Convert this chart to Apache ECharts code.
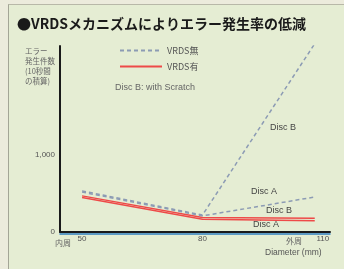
<!DOCTYPE html>
<html>
<head>
<meta charset="utf-8">
<script src="https://cdn.jsdelivr.net/npm/echarts@6/dist/echarts.min.js"></script>
<style>
  html, body { margin: 0; padding: 0; background: #ecebdc; }
  #frame { position: absolute; left: 8px; top: 4px; width: 336px; height: 265px;
           background: #e5edd3; border-left: 1px solid #a4a596; border-top: 1px solid #b8b8a8; }
  #chart { position: absolute; left: 0; top: 0; width: 344px; height: 269px; }
</style>
</head>
<body>
<div id="frame"></div>
<div id="chart"></div>
<script>
// 直径 (mm)
const diameters = [50, 80, 108];
// エラー発生件数 (10秒間の積算)
const discBWithout = [535, 220, 2450];
const discAWithout = [520, 210, 455];
const discBWith = [470, 190, 180];
const discAWith = [450, 165, 145];
const yTicks = { 0: "0", 1000: "1,000" };

const jp = '"Noto Sans CJK JP", "Noto Sans", sans-serif';

function pairs(vals) {
  return diameters.map((d, i) => [d, vals[i]]);
}

const chart = echarts.init(document.getElementById("chart"));

const dashed = { color: "#8c9bb4", width: 1.5, type: [4, 3] };
const red = { color: "#ee4a48", width: 1.5 };

chart.setOption({
  animation: false,
  title: {
    text: "●VRDSメカニズムによりエラー発生率の低減",
    left: 12,
    top: 12,
    textStyle: { fontFamily: jp, fontSize: 14, fontWeight: "bold", color: "#1a1a1a" }
  },
  legend: {
    orient: "vertical",
    left: 114,
    top: 41,
    itemWidth: 42,
    itemHeight: 8,
    itemGap: 7,
    itemStyle: { opacity: 0 },
    textStyle: { fontFamily: jp, fontSize: 9, color: "#555" },
    data: ["VRDS無", "VRDS有"]
  },
  grid: { left: 60, right: 14, top: 46, bottom: 37 },
  xAxis: [
    {
      type: "value",
      min: 44.5,
      max: 111.8,
      interval: 30,
      axisLine: { lineStyle: { color: "#1a1a1a", width: 2 } },
      axisTick: { show: false },
      splitLine: { show: false },
      axisLabel: {
        fontSize: 8, color: "#555", margin: 3,
        customValues: [50, 80, 110]
      }
    },
    {
      type: "value",
      position: "bottom",
      offset: 2,
      min: 44.5,
      max: 111.8,
      axisLine: { lineStyle: { color: "#2f7fc0", width: 1.5 } },
      axisTick: { show: false },
      axisLabel: { show: false },
      splitLine: { show: false }
    }
  ],
  yAxis: {
    type: "value",
    min: 0,
    max: 2420,
    interval: 1000,
    axisLine: { show: true, lineStyle: { color: "#1a1a1a", width: 2 } },
    axisTick: { show: false },
    splitLine: { show: false },
    axisLabel: {
      fontSize: 8, color: "#555", margin: 5,
      formatter: v => yTicks[v] || ""
    }
  },
  series: [
    { name: "VRDS無", type: "line", data: pairs(discBWithout), symbol: "none", lineStyle: dashed, itemStyle: { color: dashed.color }, z: 3 },
    { name: "VRDS無", type: "line", data: pairs(discAWithout), symbol: "none", lineStyle: dashed, itemStyle: { color: dashed.color }, z: 3 },
    { name: "VRDS有", type: "line", data: pairs(discBWith), symbol: "none", lineStyle: red, itemStyle: { color: red.color }, z: 2 },
    { name: "VRDS有", type: "line", data: pairs(discAWith), symbol: "none", lineStyle: red, itemStyle: { color: red.color }, z: 2 }
  ],
  graphic: [
    { type: "text", left: 115, top: 83, style: { text: "Disc B: with Scratch", font: "9px sans-serif", fill: "#666" } },
    { type: "text", left: 270, top: 123, style: { text: "Disc B", font: "9px sans-serif", fill: "#444" } },
    { type: "text", left: 251, top: 187, style: { text: "Disc A", font: "9px sans-serif", fill: "#444" } },
    { type: "text", left: 266, top: 206, style: { text: "Disc B", font: "9px sans-serif", fill: "#444" } },
    { type: "text", left: 253, top: 220, style: { text: "Disc A", font: "9px sans-serif", fill: "#444" } },
    { type: "text", right: 289, top: 46, style: { text: "エラー\n発生件数\n(10秒間\nの積算)", font: "7.5px 'Noto Sans CJK JP'", fill: "#666", align: "right", lineHeight: 10 } },
    { type: "text", left: 55, top: 239, style: { text: "内周", font: "8px 'Noto Sans CJK JP'", fill: "#666" } },
    { type: "text", left: 286, top: 237, style: { text: "外周", font: "8px 'Noto Sans CJK JP'", fill: "#666" } },
    { type: "text", left: 265, top: 248, style: { text: "Diameter (mm)", font: "8.5px sans-serif", fill: "#555" } }
  ]
});
</script>
</body>
</html>
